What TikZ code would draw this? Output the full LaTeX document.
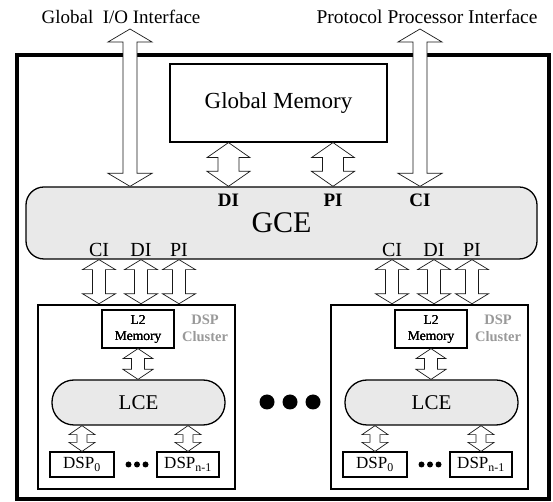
\documentclass[tikz,border=0pt]{standalone}
\usepackage{fontspec}
\setmainfont{Liberation Serif}
\usetikzlibrary{calc,positioning}

% hollow two-headed bus arrow: upper end, lower end, head half-width, shaft half-width, head length
\newcommand{\busarrow}[5]{%
  \draw[bus] ($#1$) -- ($#1+(#3,-#5)$) -- ($#1+(#4,-#5)$) -- ($#2+(#4,#5)$)
    -- ($#2+(#3,#5)$) -- ($#2$) -- ($#2+(-#3,#5)$) -- ($#2+(-#4,#5)$)
    -- ($#1+(-#4,-#5)$) -- ($#1+(-#3,-#5)$) -- cycle;}

\begin{document}
\begin{tikzpicture}[x=1pt, y=1pt,
    box/.style={draw, line width=1.2pt, inner sep=0pt},
    pill/.style={draw, fill=gray!17, line width=1.3pt, inner sep=0pt},
    bus/.style={draw=black!90, fill=white, line width=0.7pt},
    fs/.style 2 args={font=\fontsize{#1}{#2}\selectfont},
    fb/.style 2 args={font=\bfseries\fontsize{#1}{#2}\selectfont}]
  \useasboundingbox (0,0) rectangle (553,502);
  \draw[line width=4.5pt] (17,3) rectangle (549,447);

  \node[fs={19}{24}] (gio) at (121,485) {Global\ \ I/O Interface};
  \node[fs={19.5}{24}] (ppi) at (427,485) {Protocol Processor Interface};
  \node[box, minimum width=217pt, minimum height=78pt, fs={23}{26}] (gm) at (278.5,399) {Global Memory};
  \node[pill, rounded corners=18pt, minimum width=511pt, minimum height=72pt,
        fs={30}{34}] (gce) at (281.5,279) {GCE};
  \node[fb={19}{22}] (gdi) at (228.5,302) {DI};
  \node[fb={19}{22}] (gpi) at (333,302) {PI};
  \node[fb={19}{22}] (gci) at (420,302) {CI};

  \coordinate (gioT) at (130,473);
  \coordinate (ppiT) at (420,473);
  \busarrow{(gioT)}{(gioT |- gce.north)}{22}{7}{13}
  \busarrow{(ppiT)}{(gci |- gce.north)}{22}{7}{13}
  \busarrow{(gdi |- gm.south)}{(gdi |- gce.north)}{21.5}{10.5}{15}
  \busarrow{(gpi |- gm.south)}{(gpi |- gce.north)}{21.5}{10.5}{15}

  % the two DSP clusters
  \foreach \dx/\c in {0/l, 293/r} {
    \node[box, line width=2.5pt, minimum width=197pt, minimum height=184pt] (cl\c) at (136.5+\dx,105) {};
    \node[fs={20}{24}] (ci\c) at (99+\dx,252) {CI};
    \node[fs={20}{24}] (di\c) at (141+\dx,252) {DI};
    \node[fs={20}{24}] (pi\c) at (179+\dx,252) {PI};
    \foreach \p in {ci,di,pi}
      \busarrow{(\p\c |- gce.south)}{(\p\c |- cl\c.north)}{16.5}{6.5}{10}
    \node[box, minimum width=72pt, minimum height=38pt, align=center, fs={13.5}{16}] (l2\c) at (138+\dx,173) {L2\\Memory};
    \node[fb={14.5}{17}, text=gray!80, align=center] (tag\c) at (205+\dx,174) {DSP\\Cluster};
    \node[pill, rounded corners=22pt, minimum width=173pt, minimum height=45pt, fs={21}{24}] (lce\c) at (138.5+\dx,99.5) {LCE};
    \node[box, minimum width=64pt, minimum height=25pt, fs={17}{20}] (dspa\c) at (82+\dx,37.5) {DSP\textsubscript{0}};
    \node[box, minimum width=62pt, minimum height=25pt, fs={17}{20}] (dspb\c) at (188+\dx,37.5) {DSP\textsubscript{n-1}};
    \busarrow{(l2\c.south)}{(l2\c |- lce\c.north)}{15}{6.5}{10}
    \busarrow{(dspa\c |- lce\c.south)}{(dspa\c.north)}{13}{5}{9}
    \busarrow{(dspb\c |- lce\c.south)}{(dspb\c.north)}{13}{5}{9}
    \foreach \k in {-8.5,0,8.5}
      \fill (137+\dx+\k,37.5) circle (3);
  }
  \foreach \x in {267,290,313}
    \fill (\x,100) circle (7.5);
\end{tikzpicture}
\end{document}
